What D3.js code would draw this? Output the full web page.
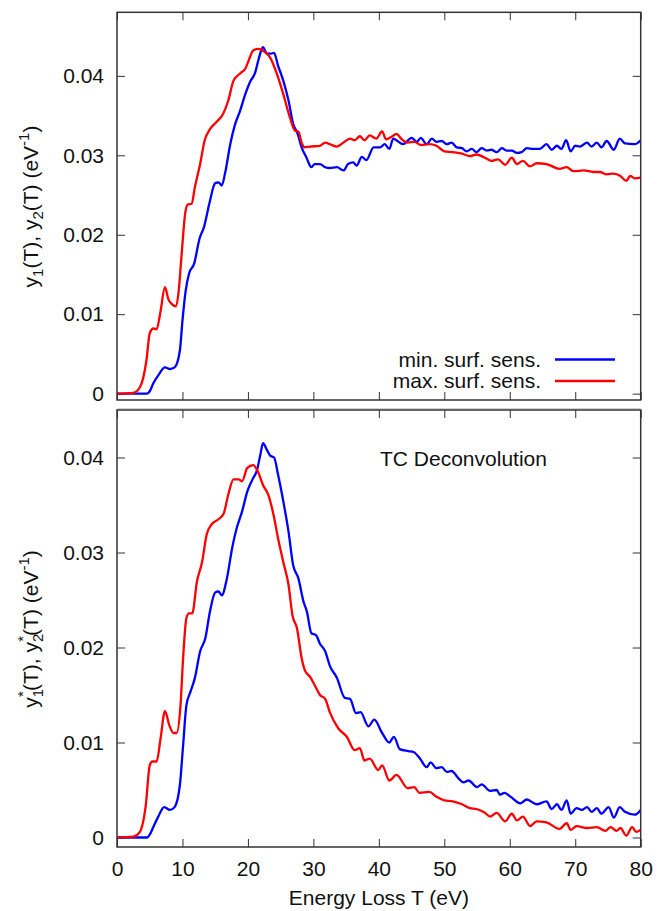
<!DOCTYPE html>
<html>
<head>
<meta charset="utf-8">
<script src="https://cdn.jsdelivr.net/npm/d3@7"></script>
<style>
  body { margin: 0; background: #fff; }
  svg text { font-family: "Liberation Sans", Arial, sans-serif; fill: #111; }
</style>
</head>
<body>
<div class="canvas"></div>
<script>
// data, [T (eV), y (1/eV)]
const topMinSurf = [[0,0],[4.6,0],[5.0,0.0003],[5.55,0.0013],[6.3,0.0023],[7.33,0.0033],[8.1,0.0031],[8.8,0.0033],[9.6,0.0054],[10.0,0.0092],[10.5,0.013],[11.0,0.0151],[11.8,0.0164],[12.6,0.0195],[13.3,0.021],[14.1,0.0239],[15.0,0.0265],[15.5,0.0266],[16.0,0.0262],[16.5,0.0277],[17.3,0.0314],[18.0,0.0338],[18.8,0.0356],[19.6,0.0377],[20.3,0.0392],[21.1,0.0404],[21.7,0.0423],[22.3,0.0436],[22.9,0.0428],[23.5,0.0428],[24.0,0.0429],[24.6,0.0413],[25.4,0.0394],[26.2,0.0369],[26.9,0.034],[27.6,0.0327],[28.2,0.031],[28.9,0.0298],[29.7,0.0285],[30.2,0.0289],[31.0,0.0289],[31.8,0.0285],[32.5,0.0284],[33.6,0.0285],[34.6,0.0281],[35.3,0.0289],[36.1,0.0291],[36.6,0.0287],[37.4,0.0298],[38.1,0.0294],[39.2,0.031],[40.2,0.031],[40.9,0.0314],[41.6,0.0308],[42.2,0.0321],[43.0,0.0317],[43.7,0.0314],[45.0,0.0322],[45.8,0.0317],[46.4,0.0322],[47.3,0.0314],[48.1,0.0321],[48.8,0.0317],[49.6,0.0318],[50.4,0.0314],[51.1,0.0316],[51.9,0.031],[52.7,0.0309],[53.4,0.0305],[54.2,0.0308],[54.9,0.0304],[55.7,0.0309],[56.5,0.0306],[57.2,0.0307],[58.0,0.0304],[58.8,0.0309],[59.5,0.0306],[60.3,0.0306],[61.1,0.0303],[61.8,0.0304],[62.6,0.0309],[63.6,0.0308],[64.6,0.0308],[65.6,0.0314],[66.4,0.0307],[67.2,0.0312],[67.9,0.0308],[68.6,0.0319],[69.3,0.0305],[70.0,0.0312],[70.7,0.0311],[71.8,0.0316],[72.5,0.0311],[73.3,0.0316],[74.0,0.031],[74.8,0.0318],[75.9,0.0307],[76.8,0.0321],[77.6,0.0315],[79.1,0.0314],[80,0.0319]];
const topMaxSurf = [[0,0],[2.5,0.0001],[3.5,0.0008],[4.5,0.0042],[5.0,0.0076],[5.55,0.0082],[6.05,0.0081],[6.6,0.0101],[7.33,0.0134],[7.84,0.0119],[8.35,0.0113],[8.97,0.011],[9.37,0.0125],[9.88,0.0176],[10.4,0.0226],[10.8,0.0238],[11.4,0.0239],[11.9,0.026],[12.7,0.0289],[13.4,0.0319],[14.2,0.0333],[15.2,0.0342],[16.2,0.0352],[17.0,0.0369],[17.8,0.0394],[18.8,0.0403],[19.6,0.0409],[20.1,0.0419],[20.8,0.0432],[21.6,0.0434],[22.6,0.043],[23.4,0.0423],[24.4,0.0403],[25.4,0.0377],[26.4,0.0348],[27.2,0.0331],[27.7,0.033],[28.2,0.0316],[28.6,0.031],[29.5,0.0311],[31.0,0.0312],[31.8,0.0316],[32.5,0.0314],[33.6,0.0311],[34.6,0.0316],[35.6,0.0321],[36.3,0.0319],[37.1,0.0324],[37.8,0.0319],[38.6,0.0325],[39.6,0.0321],[40.5,0.033],[41.1,0.032],[41.9,0.0323],[42.7,0.0327],[43.4,0.0321],[44.4,0.0316],[45.4,0.0317],[46.4,0.0313],[47.7,0.0314],[48.8,0.0312],[50.0,0.0305],[51.3,0.0304],[52.7,0.0302],[53.9,0.0299],[54.9,0.0301],[56.2,0.0297],[57.2,0.0293],[58.2,0.0295],[59.3,0.0288],[60.3,0.0297],[61.1,0.0289],[62.0,0.0293],[63.1,0.0286],[64.1,0.029],[65.6,0.0289],[67.6,0.0283],[68.7,0.0285],[69.7,0.028],[71.3,0.0281],[72.8,0.0279],[73.8,0.0279],[74.8,0.0276],[75.9,0.0277],[76.9,0.0274],[77.8,0.0268],[78.4,0.0274],[79.1,0.0271],[80,0.0272]];
const botMinSurf = [[0,0],[4.6,0],[5.0,0.0003],[5.55,0.0011],[6.3,0.0022],[7.2,0.0032],[8.1,0.0029],[8.8,0.0032],[9.6,0.0055],[10.1,0.0097],[10.6,0.0139],[11.2,0.0153],[11.9,0.0168],[12.7,0.0196],[13.5,0.021],[14.2,0.0238],[15.0,0.0258],[15.5,0.0259],[16.0,0.0255],[16.8,0.0273],[17.6,0.0305],[18.3,0.0326],[19.1,0.0343],[19.9,0.0364],[20.7,0.0377],[21.4,0.0387],[21.9,0.0403],[22.3,0.0415],[22.9,0.0408],[23.4,0.0402],[24.0,0.04],[24.6,0.0382],[25.4,0.0354],[26.2,0.0322],[26.9,0.0287],[27.7,0.0273],[28.5,0.0248],[29.0,0.0238],[29.7,0.0215],[30.4,0.0213],[31.0,0.0204],[31.8,0.0196],[32.5,0.0181],[33.6,0.0168],[34.8,0.0147],[35.6,0.0146],[36.5,0.0131],[37.2,0.0132],[38.4,0.0117],[39.3,0.0124],[40.5,0.011],[41.6,0.01],[42.3,0.0106],[43.2,0.0093],[44.5,0.0091],[45.3,0.009],[46.3,0.0083],[47.3,0.0074],[47.9,0.0079],[48.8,0.0073],[49.6,0.0074],[50.4,0.0069],[51.1,0.007],[52.2,0.0062],[52.9,0.0058],[53.7,0.006],[55.0,0.0053],[55.7,0.0056],[57.0,0.0049],[58.0,0.005],[58.5,0.0045],[59.2,0.0047],[60.1,0.0043],[61.6,0.0036],[62.6,0.004],[64.1,0.0035],[65.6,0.0038],[66.4,0.003],[67.2,0.0035],[67.9,0.0029],[68.7,0.0039],[69.3,0.0025],[70.2,0.0031],[71.0,0.0029],[71.8,0.0032],[72.5,0.0027],[73.3,0.0031],[74.0,0.0025],[75.1,0.0032],[75.9,0.0021],[76.8,0.0032],[77.6,0.0027],[79.1,0.0024],[80,0.0029]];
const botMaxSurf = [[0,0],[2.5,0.0001],[3.5,0.0006],[4.4,0.0034],[5.0,0.0076],[5.4,0.008],[6.05,0.008],[6.65,0.0104],[7.33,0.0133],[8.0,0.0118],[8.6,0.011],[9.1,0.011],[9.7,0.0139],[10.1,0.0189],[10.6,0.0231],[11.0,0.0236],[11.5,0.0236],[12.2,0.0269],[13.0,0.029],[13.7,0.0319],[14.5,0.033],[15.5,0.0335],[16.3,0.0341],[17.0,0.0361],[17.8,0.0377],[18.6,0.0377],[19.1,0.0375],[19.9,0.0389],[20.8,0.0392],[21.6,0.0384],[22.3,0.0371],[23.1,0.0361],[23.9,0.034],[24.6,0.0315],[25.4,0.029],[26.2,0.0266],[26.8,0.0234],[27.5,0.022],[28.2,0.0189],[28.7,0.0176],[29.5,0.0169],[30.3,0.0159],[31.0,0.015],[31.8,0.0146],[32.5,0.0132],[33.8,0.0115],[35.1,0.0106],[36.3,0.0092],[37.1,0.0094],[37.8,0.0081],[38.6,0.0083],[39.9,0.0071],[40.5,0.0076],[41.6,0.006],[42.7,0.0066],[44.4,0.0052],[45.4,0.0053],[46.2,0.0047],[47.7,0.0048],[48.8,0.0043],[50.0,0.0039],[51.3,0.0038],[52.7,0.0035],[53.9,0.0031],[54.9,0.003],[56.2,0.0026],[57.0,0.0022],[58.0,0.0026],[59.3,0.0017],[60.3,0.0025],[61.1,0.0018],[62.0,0.0022],[63.1,0.0012],[64.1,0.0017],[65.6,0.0016],[67.6,0.0009],[68.7,0.0015],[69.3,0.0008],[70.2,0.0012],[71.8,0.001],[73.3,0.0011],[74.6,0.0007],[75.4,0.0011],[76.3,0.0007],[76.9,0.001],[77.8,0.0002],[78.7,0.0011],[79.3,0.0006],[80,0.0008]];

const xTicks = [0, 10, 20, 30, 40, 50, 60, 70, 80];
const yTicks = [0, 0.01, 0.02, 0.03, 0.04];
const yTickLabels = ["0", "0.01", "0.02", "0.03", "0.04"];
const legendNames = ["min. surf. sens.", "max. surf. sens."];
const colors = ["#0000ff", "#ff0000"];

const svg = d3.select(".canvas").append("svg")
  .attr("width", 665)
  .attr("height", 911);

const xScale = d3.scaleLinear().domain([0, 80]).range([117, 640.7]);
const yTop = d3.scaleLinear().domain([-0.0008, 0.048]).range([400, 12.3]);
const yBot = d3.scaleLinear().domain([-0.001, 0.045]).range([847, 410]);

// faint separator under top panel
svg.append("line")
  .attr("x1", 117).attr("x2", 640.7)
  .attr("y1", 408.5).attr("y2", 408.5)
  .attr("stroke", "#d0d0d0").attr("stroke-width", 1);

const drawPanel = (yScale, series, id, showX) => {
  const [x0, x1] = xScale.range();
  const [yb, yt] = yScale.range();
  const g = svg.append("g");

  svg.append("clipPath").attr("id", id)
    .append("rect").attr("x", x0).attr("y", yt).attr("width", x1 - x0).attr("height", yb - yt);

  const ax = (axis, tr) => {
    const a = g.append("g").attr("transform", tr).call(axis);
    a.select(".domain").remove();
    a.selectAll("line").attr("stroke", "#333").attr("stroke-width", 1);
    a.selectAll("text").attr("font-size", 21).attr("fill", "#111")
      .attr("font-family", "Liberation Sans, Arial, sans-serif");
    return a;
  };

  ax(d3.axisLeft(yScale).tickValues(yTicks).tickFormat((d, i) => yTickLabels[i]).tickSize(-8).tickPadding(13), `translate(${x0},0)`);
  ax(d3.axisRight(yScale).tickValues(yTicks).tickFormat("").tickSize(-8), `translate(${x1},0)`);
  ax(d3.axisTop(xScale).tickValues(xTicks).tickFormat("").tickSize(-8), `translate(0,${yt})`);
  ax(d3.axisBottom(xScale).tickValues(xTicks).tickFormat(showX ? d3.format("d") : "").tickSize(-8).tickPadding(14), `translate(0,${yb})`);

  const line = d3.line()
    .x(d => xScale(d[0]))
    .y(d => yScale(d[1]))
    .curve(d3.curveMonotoneX);

  series.forEach((s, i) => {
    g.append("path")
      .datum(s)
      .attr("clip-path", `url(#${id})`)
      .attr("fill", "none")
      .attr("stroke", colors[i])
      .attr("stroke-width", 2.3)
      .attr("stroke-linejoin", "round")
      .attr("d", line);
  });

  g.append("rect")
    .attr("x", x0).attr("y", yt)
    .attr("width", x1 - x0).attr("height", yb - yt)
    .attr("fill", "none").attr("stroke", "#333").attr("stroke-width", 1.5);
  return g;
};

const topG = drawPanel(yTop, [topMinSurf, topMaxSurf], "clipTop", false);
const botG = drawPanel(yBot, [botMinSurf, botMaxSurf], "clipBot", true);

// legend (top panel)
legendNames.forEach((name, i) => {
  const ly = 359.5 + i * 21.5;
  topG.append("text")
    .attr("x", 541).attr("y", ly + 7)
    .attr("text-anchor", "end")
    .attr("font-size", 21)
    .text(name);
  topG.append("line")
    .attr("x1", 555).attr("x2", 615)
    .attr("y1", ly).attr("y2", ly)
    .attr("stroke", colors[i]).attr("stroke-width", 2.3);
});

botG.append("text")
  .attr("x", 380).attr("y", 465.5)
  .attr("font-size", 21)
  .text("TC Deconvolution");

// y labels
const yLabel = (cy, starred) => {
  const t = svg.append("text")
    .attr("transform", `translate(38,${cy}) rotate(-90)`)
    .attr("text-anchor", "middle")
    .attr("font-size", 21);
  const sub = (txt, n) => {
    t.append("tspan").attr("font-size", 15).attr("dy", 5).text(n);
    if (starred) {
      t.append("tspan").attr("font-size", 15).attr("dx", -8).attr("dy", -15).text("*");
      t.append("tspan").attr("dy", 10).text(txt);
    } else {
      t.append("tspan").attr("dy", -5).text(txt);
    }
  };
  t.append("tspan").text("y");
  sub("(T), y", "1");
  sub("(T) (eV", "2");
  t.append("tspan").attr("font-size", 15).attr("dy", -9).text("-1");
  t.append("tspan").attr("dy", 9).text(")");
};
yLabel(206.5, false);
yLabel(629, true);

svg.append("text")
  .attr("x", 378.9).attr("y", 905)
  .attr("text-anchor", "middle")
  .attr("font-size", 21)
  .text("Energy Loss T (eV)");
</script>
</body>
</html>
